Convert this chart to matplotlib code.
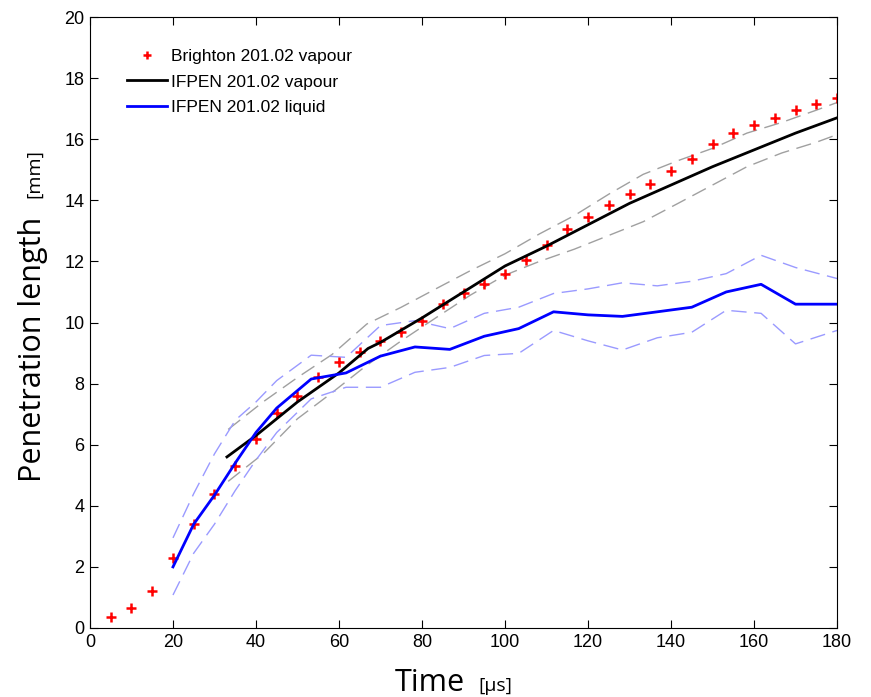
import matplotlib
matplotlib.use("Agg")
import matplotlib.pyplot as plt

# Brighton vapour (red crosses)
br_t = [5, 10, 15, 20, 25, 30, 35, 40, 45, 50, 55, 60, 65, 70, 75, 80, 85, 90,
        95, 100, 105, 110, 115, 120, 125, 130, 135, 140, 145, 150, 155, 160,
        165, 170, 175, 180]
br_len = [0.35, 0.65, 1.2, 2.3, 3.4, 4.4, 5.3, 6.2, 7.05, 7.6, 8.2, 8.7, 9.05,
          9.4, 9.7, 10.05, 10.6, 10.95, 11.25, 11.6, 12.05, 12.55, 13.05, 13.45,
          13.85, 14.2, 14.55, 14.95, 15.35, 15.85, 16.2, 16.45, 16.7, 16.95,
          17.15, 17.35]

# IFPEN vapour (black) and its band
vap_t = [33, 40, 50, 60, 67, 70, 80, 90, 100, 110, 120, 130, 140, 150, 160, 170, 180]
vap_len = [5.6, 6.3, 7.4, 8.35, 9.15, 9.35, 10.15, 11.0, 11.85, 12.5, 13.2,
           13.9, 14.5, 15.1, 15.65, 16.2, 16.7]
band_t = [33.3, 41.7, 50, 58.3, 66.7, 75, 83.3, 91.7, 100, 108.3, 116.7, 125,
          133.3, 141.7, 150, 158.3, 166.7, 175, 180]
vap_hi = [6.5, 7.4, 8.2, 8.95, 9.95, 10.5, 11.1, 11.7, 12.25, 12.9, 13.5, 14.2,
          14.85, 15.3, 15.7, 16.2, 16.55, 16.95, 17.2]
vap_lo = [4.8, 5.7, 6.85, 7.7, 8.6, 9.4, 10.15, 10.9, 11.55, 12.0, 12.4, 12.85,
          13.3, 13.9, 14.5, 15.1, 15.55, 15.9, 16.15]

# IFPEN liquid (blue) and its band
liq_t = [20, 25, 30, 35, 40, 45, 53.3, 61.7, 70, 78.3, 86.7, 95, 103.3, 111.7,
         120, 128.3, 136.7, 145, 153.3, 161.7, 170, 180]
liq_len = [2.0, 3.4, 4.35, 5.4, 6.4, 7.2, 8.15, 8.35, 8.9, 9.2, 9.12, 9.55, 9.8,
           10.35, 10.25, 10.2, 10.35, 10.5, 11.0, 11.25, 10.6, 10.6]
liq_hi = [2.95, 4.4, 5.7, 6.8, 7.4, 8.1, 8.93, 8.86, 9.9, 10.06, 9.8, 10.3, 10.5,
          10.95, 11.1, 11.3, 11.2, 11.35, 11.6, 12.2, 11.8, 11.44]
liq_lo = [1.08, 2.45, 3.4, 4.5, 5.5, 6.4, 7.5, 7.88, 7.88, 8.37, 8.53, 8.92, 8.99,
          9.74, 9.4, 9.1, 9.5, 9.68, 10.4, 10.3, 9.3, 9.74]

fig = plt.figure(figsize=(8.71, 6.97), dpi=100)
ax = fig.add_axes([0.1033, 0.099, 0.8577, 0.8766])

dash = (0, (11, 5.5))
ax.plot(band_t, vap_hi, color='#a0a0a0', ls=dash, lw=1)
ax.plot(band_t, vap_lo, color='#a0a0a0', ls=dash, lw=1)
ax.plot(liq_t, liq_hi, color='#9a9aff', ls=dash, lw=1)
ax.plot(liq_t, liq_lo, color='#9a9aff', ls=dash, lw=1)

ax.plot(br_t, br_len, '+', color='red', ms=7, mew=1.8, label='Brighton 201.02 vapour')
ax.plot(vap_t, vap_len, color='black', lw=2, label='IFPEN 201.02 vapour')
ax.plot(liq_t, liq_len, color='#0000ff', lw=2, label='IFPEN 201.02 liquid')

ax.set_xlim(0, 180)
ax.set_ylim(0, 20)
ax.set_xticks(range(0, 181, 20))
ax.set_yticks(range(0, 21, 2))
ax.tick_params(direction='in', top=True, right=True, length=6, labelsize=13, pad=4)
for lab in ax.get_xticklabels() + ax.get_yticklabels():
    lab.set_family('Liberation Sans')

leg = ax.legend(loc='upper left', bbox_to_anchor=(0.0496, 0.948), frameon=False,
                prop={'family': 'Liberation Sans', 'size': 12.5},
                handlelength=2.3, handletextpad=0.25, labelspacing=0.6,
                borderpad=0, borderaxespad=0, markerscale=0.75)

# axis labels with small unit parts
fig.text(0.4535, 0.008, 'Time', fontsize=22, family='Open Sans', ha='left', va='baseline')
fig.text(0.549, 0.008, '[µs]', fontsize=14, family='Open Sans', ha='left', va='baseline')
fig.text(0.021, 0.3085, 'Penetration length', fontsize=22, family='Open Sans',
         rotation=90, ha='left', va='bottom')
fig.text(0.0287, 0.716, '[mm]', fontsize=14, family='Open Sans',
         rotation=90, ha='left', va='bottom')

fig.savefig('out.png', dpi=100)
